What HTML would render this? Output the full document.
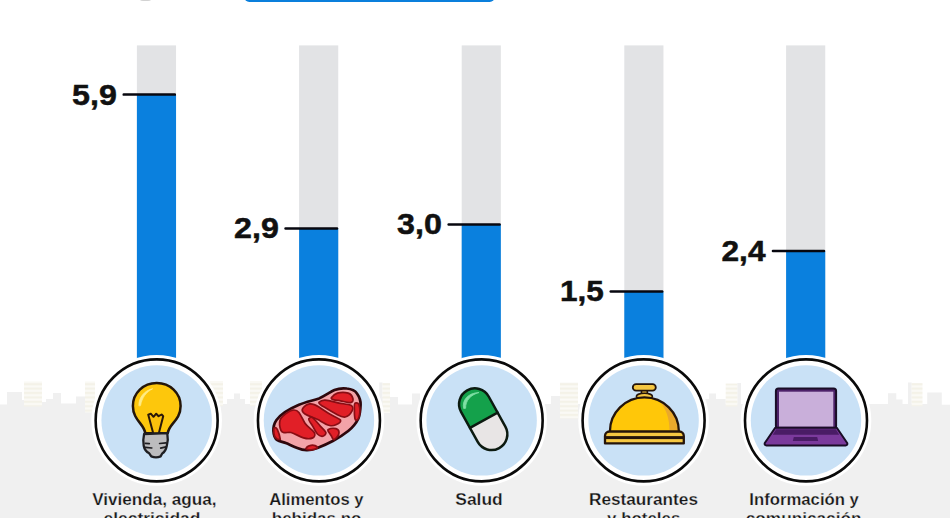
<!DOCTYPE html>
<html>
<head>
<meta charset="utf-8">
<style>
html,body{margin:0;padding:0;background:#fff;}
body{width:950px;height:518px;overflow:hidden;position:relative;font-family:"Liberation Sans",sans-serif;}
svg{position:absolute;left:0;top:0;display:block;}
text{font-family:"Liberation Sans",sans-serif;font-weight:bold;fill:#111;}
.val{font-size:29.8px;stroke:#111;stroke-width:0.5px;}
.lab{font-size:17.1px;text-anchor:middle;fill:#161616;stroke:#f0f0f0;stroke-width:0.25px;}
</style>
</head>
<body>
<svg width="950" height="518" viewBox="0 0 950 518">
  <!-- background -->
  <rect x="0" y="0" width="950" height="518" fill="#ffffff"/>
  <!-- skyline -->
  <defs>
    <pattern id="win" x="0" y="381.5" width="20" height="4.4" patternUnits="userSpaceOnUse">
      <rect x="0" y="0" width="20" height="4.4" fill="#fbfaf6"/>
      <rect x="0" y="1.6" width="20" height="2.2" fill="#f4f2e8"/>
    </pattern>
    <filter id="soft2" x="-5%" y="-5%" width="110%" height="110%"><feGaussianBlur stdDeviation="0.75"/></filter>
    <filter id="soft" x="-2%" y="-10%" width="104%" height="120%"><feGaussianBlur stdDeviation="0.7"/></filter>
  </defs>
  <g id="skyline" filter="url(#soft)">
    <path fill="#f0f0f0" d="M-5,525 V404.5 H7 V392 H22 V400 H42 V402 H46 V399 H53 V393 H61 V403.5 H76 V396.5 H86 V404 H219 H227 V399 H234 V393.6 H240 V399 H245 V404 H379.3 V382.5 H382.5 V397 H398 V404.5 H412 V393.5 H420 V404 H551 V396 H560 V404 H705 V399 H709 V393.5 H716 V399 H725.7 V404 H737.3 V383 H741 V404 H868 L881,404 H888 V393.2 H896.3 V399.4 H902.5 V404 H908 V382.4 H911.7 V404 H922.5 H927.2 V392.4 H941.8 V404.8 H955 V525 Z"/>
    <g fill="url(#win)">
      <rect x="24" y="381.5" width="18" height="25"/>
      <rect x="85" y="381.5" width="10" height="31"/>
      <rect x="210" y="381" width="13" height="25"/>
      <rect x="250" y="381" width="12" height="25"/>
      <rect x="382.5" y="383" width="7.5" height="30"/>
      <rect x="560" y="382.5" width="18" height="36"/>
      <rect x="725.7" y="383.5" width="11.6" height="23"/>
      <rect x="911.7" y="383" width="10.8" height="23.3"/>
    </g>
  </g>
  <!-- top fragments -->
  <rect x="244.3" y="-10" width="250.4" height="12" rx="5" fill="#0a7fdc"/>
  <ellipse cx="145.5" cy="-0.5" rx="6" ry="1.6" fill="#d2d2d2"/>
  <!-- bars -->
  <g id="bars">
    <rect x="136.9" y="45.4" width="39.15" height="320" fill="#e2e3e5"/>
    <rect x="299.1" y="45.4" width="39.15" height="320" fill="#e2e3e5"/>
    <rect x="461.7" y="45.4" width="39.15" height="320" fill="#e2e3e5"/>
    <rect x="624.3" y="45.4" width="39.15" height="320" fill="#e2e3e5"/>
    <rect x="786.1" y="45.4" width="39.15" height="320" fill="#e2e3e5"/>
    <rect x="136.9" y="94.8" width="39.15" height="271.2" fill="#0a80de"/>
    <rect x="299.1" y="228.5" width="39.15" height="137.5" fill="#0a80de"/>
    <rect x="461.7" y="224.6" width="39.15" height="141.4" fill="#0a80de"/>
    <rect x="624.3" y="291.7" width="39.15" height="74.3" fill="#0a80de"/>
    <rect x="786.1" y="251.0" width="39.15" height="115.0" fill="#0a80de"/>
  </g>
  <!-- value lines -->
  <g id="lines" fill="#07070f">
    <rect x="122.5" y="93.35" width="53.55" height="2.5" rx="1.2"/>
    <rect x="284.3" y="227.15" width="53.95" height="2.5" rx="1.2"/>
    <rect x="447.4" y="223.30" width="53.45" height="2.5" rx="1.2"/>
    <rect x="609.5" y="290.25" width="53.95" height="2.5" rx="1.2"/>
    <rect x="771.7" y="249.75" width="53.55" height="2.5" rx="1.2"/>
  </g>
  <!-- values -->
  <g id="values">
    <text class="val" textLength="44.8" lengthAdjust="spacingAndGlyphs" x="72" y="105">5,9</text>
    <text class="val" textLength="44.8" lengthAdjust="spacingAndGlyphs" x="234" y="237.8">2,9</text>
    <text class="val" textLength="44.8" lengthAdjust="spacingAndGlyphs" x="397" y="234.4">3,0</text>
    <text class="val" textLength="43.8" lengthAdjust="spacingAndGlyphs" x="560" y="301.2">1,5</text>
    <text class="val" textLength="44" lengthAdjust="spacingAndGlyphs" x="721.5" y="260.7">2,4</text>
  </g>
  <!-- circles -->
  <g id="circles">
    <g transform="translate(156.65,420.4)"><circle r="65.3" fill="#fff"/><circle r="61" fill="#fff" stroke="#0a0a0a" stroke-width="2.6"/><circle r="55.2" fill="#c9e1f6" filter="url(#soft2)"/></g>
    <g transform="translate(318.95,420.4)"><circle r="65.3" fill="#fff"/><circle r="61" fill="#fff" stroke="#0a0a0a" stroke-width="2.6"/><circle r="55.2" fill="#c9e1f6" filter="url(#soft2)"/></g>
    <g transform="translate(481.65,420.4)"><circle r="65.3" fill="#fff"/><circle r="61" fill="#fff" stroke="#0a0a0a" stroke-width="2.6"/><circle r="55.2" fill="#c9e1f6" filter="url(#soft2)"/></g>
    <g transform="translate(643.6,420.4)"><circle r="65.3" fill="#fff"/><circle r="61" fill="#fff" stroke="#0a0a0a" stroke-width="2.6"/><circle r="55.2" fill="#c9e1f6" filter="url(#soft2)"/></g>
    <g transform="translate(806.0,420.4)"><circle r="65.3" fill="#fff"/><circle r="61" fill="#fff" stroke="#0a0a0a" stroke-width="2.6"/><circle r="55.2" fill="#c9e1f6" filter="url(#soft2)"/></g>
  </g>
  <!-- icons -->
  <g id="icons" stroke-linejoin="round" stroke-linecap="round">
    <!-- bulb -->
    <g id="bulb">
      <path d="M145.2,433.2 C144.6,424 132.9,420.5 132.9,406 C132.9,393 143.4,383 156.7,383 C170,383 180.6,393 180.6,406 C180.6,420.5 168.6,424 167.8,433.2 Z" fill="#fdc70c" stroke="#24160a" stroke-width="2.5"/>
      <path d="M138.9,405.5 C138.6,397.5 144.5,390.4 152.6,388.8 C146.5,391.8 141.8,397.5 140.6,405.3 Z" fill="#ffec86" stroke="#ffec86" stroke-width="0.8"/>
      <path d="M153,432.6 L148.2,414.6 L150.8,413.7 L153.5,416.8 L156.2,413.7 L158.6,416.2 L161.6,414.5 L163.2,416.2 L159,432.6" fill="#fbc10c" stroke="#2a1808" stroke-width="2"/>
      <path d="M144.1,434 L167.3,433.2 C168,437 167.8,442 166.8,445.8 C166,450 164,452.5 162.2,453.5 L160.6,456.4 C158,457.6 154,457.6 151.3,456.4 L149.2,453.3 C146.5,452 144.4,449.5 143.7,445.8 C143,442 143.3,437.5 144.1,434 Z" fill="#bcbcbe" stroke="#1e1e22" stroke-width="2.3"/>
      <path d="M145.4,443.4 L149.3,443.7 M145.4,447.3 L151.8,448 M159.6,443.5 L166,442.9 M160.7,448.1 L166,446.8" fill="none" stroke="#1e1e22" stroke-width="1.7"/>
    </g>
    <!-- steak -->
    <g id="steak">
      <path d="M273.4,431 C273.2,427 274.5,422.8 276.5,420 C281,413.5 290,408.5 299,404.7 C306,401.8 313,400.5 319,398.4 C325,396 330,392 334.5,390 C338.5,388.4 343,388 346.8,388.5 C351.5,389 355,390.5 356.8,393.2 C359.5,397 360.8,401 360.6,404.8 C360.4,410 360,415 358.3,418.7 C356,423.5 352.5,427.5 348.2,431 C343.5,434.8 338,438.2 332.8,441 C328,443.6 322.5,446 317.4,447.9 C313.6,449.3 310,450.4 306.6,450.2 C303.2,450 300,449 297.3,447.9 C293.5,446.4 290,444.8 286.5,443.3 C283,441.9 279.5,441.6 277.3,440.2 C275,438.7 273.6,435 273.4,431 Z" fill="#f3a3a8" stroke="#2d070c" stroke-width="2.7"/>
      <g fill="#e11f27" stroke="#8a0d14" stroke-width="1.7">
        <path d="M279.6,424.8 C279.3,421 280.5,418.2 282.7,416.3 C285.5,413.8 289.5,410.6 292.7,410.1 C295,409.8 297.5,410.6 298.9,412.4 C301.3,415.6 302.8,419.8 305,423.2 C307.3,426.8 312.5,429.6 314.3,432.5 C315.5,434.5 314.8,437 312.8,437.9 C310.2,439.1 306.5,438.8 303.5,437.9 C299,436.5 295,433.5 291.1,432.5 C288.5,431.8 285.5,433.2 283.4,432.5 C281,431.7 279.9,428 279.6,424.8 Z"/>
        <path d="M302.7,408.5 C304.5,406 307,404.2 309.7,403.9 C313,403.5 316,405.2 318.9,407 C322.7,409.3 326,411.8 329.7,414 C333.3,416.2 338.5,418 340.5,420.1 C341.3,422 338.2,423.8 335.9,424.8 C334,425.7 331.7,426 329.7,425.5 C325.8,424.5 322.3,422.1 318.9,420.1 C314.2,417.4 308.5,416.5 305,414 C303,412.6 301.6,410.2 302.7,408.5 Z"/>
        <path d="M318.9,402.4 C320.5,400.8 322.8,400 325.1,400.1 C329.8,400.3 334.5,402.2 339,403.1 C343,403.9 348.5,404 351.3,405.5 C353,406.5 353,409.2 352.1,410.9 C350.8,413.4 347.8,416.5 345.2,417 C342.7,417.5 339.8,416 337.4,414.7 C333.7,412.7 330,410.6 326.6,408.5 C323.8,406.8 318.5,404.5 318.9,402.4 Z"/>
        <path d="M331.3,397.7 C332.8,395.8 335,393.8 337.4,393.1 C340.8,392.1 345,392.1 348.2,393.1 C350.5,393.8 352.3,396.3 352.9,398.5 C353.3,400 352.8,402 351.3,402.4 C348,403.3 344,401.5 340.5,400.8 C337.3,400.2 330.6,400 331.3,397.7 Z"/>
        <path d="M355.2,403.1 C356.5,402.6 358.3,403.3 359,404.7 C360.2,408.5 360,413.5 359,417 C358.6,418.4 357.2,420.3 356,420.1 C354.8,419.9 354.8,417.5 354.6,416 C354.3,413.5 354.4,412 354.4,410.9 C354.4,408.3 353.9,403.7 355.2,403.1 Z"/>
        <path d="M308.9,418.6 C309.9,417.5 311.8,417 312.8,417.8 C315.8,420.2 318,423.6 320.5,426.3 C322.4,428.4 325.3,430.3 325.9,432.5 C326.3,434.2 323.8,436.4 322,436.3 C320.2,436.2 318.6,435.3 317.4,434 C315.5,431.8 314.2,428.8 312.8,426.3 C311.4,423.8 307.8,420 308.9,418.6 Z"/>
        <path d="M328.2,429.4 C330.5,428.3 333.6,428 335.9,428.6 C337.5,429 339,430.8 339,432.5 C339,435 336.6,437.8 334.4,439.4 C333.4,440 332.5,438.3 332,437.1 C331,434.5 326.5,430.3 328.2,429.4 Z"/>
        <path d="M305.8,448.7 C306.5,447.2 308.2,446 309.7,445.6 C311.4,445.1 313.5,445.1 315.1,445.6 C316.2,446 317.6,447.2 317.4,447.9 C315.5,448.9 313.3,449.7 311.2,449.8 C309.4,449.9 306.5,449.6 305.8,448.7 Z"/>
        <path d="M274.2,427.8 C275.2,427.5 276.8,428.5 277.3,429.4 C278.8,432.5 279.8,436.2 280.3,439.4 C279,439.6 277.4,439.3 276.5,438.6 C274.8,437.2 274,435 273.9,433.2 C273.8,431.4 273.6,428.3 274.2,427.8 Z"/>
      </g>
    </g>
    <!-- pill -->
    <g id="pill">
      <g transform="translate(483.2,419.2) rotate(-29)">
        <rect x="-15.8" y="-33" width="31.6" height="66" rx="15.8" fill="#e8e5e5"/>
        <path d="M-15.8,1.2 V-17.2 A15.8,15.8 0 0 1 15.8,-17.2 V1.2 Z" fill="#14a14b"/>
        <rect x="-15.8" y="-33" width="31.6" height="66" rx="15.8" fill="none" stroke="#0c1a10" stroke-width="2.5"/>
        <path d="M-15.8,1.2 H15.8" stroke="#0c1a10" stroke-width="2.4"/>
      </g>
      <path d="M463.6,408.2 C461.8,400.5 467.5,393 479,392.5 C470.5,395 465.5,400.5 465.6,408 Z" fill="#7fdfa5" stroke="#7fdfa5" stroke-width="0.8"/>
    </g>
    <!-- bell -->
    <g id="bell">
      <rect x="641.5" y="389.5" width="5.8" height="6" fill="#f3c23c" stroke="#24140a" stroke-width="1.6"/>
      <rect x="632.8" y="384.1" width="23" height="6.6" rx="3.3" fill="#f5c742" stroke="#24140a" stroke-width="1.8"/>
      <ellipse cx="644.4" cy="396.3" rx="8" ry="3" fill="#f5c742" stroke="#24140a" stroke-width="1.6"/>
      <path d="M609.9,431.5 A34.5,34.1 0 0 1 678.9,431.5 Z" fill="#ffc709"/>
      <path d="M659,400.8 C671,407 678,418 678.3,430.5 L669.5,430.5 C669.5,419 666.5,409 659,400.8 Z" fill="#eaa92c"/>
      <path d="M609.9,431.5 A34.5,34.1 0 0 1 678.9,431.5" fill="none" stroke="#24140a" stroke-width="2.3"/>
      <path d="M605,443.4 V436 C605,433.5 607,431.5 609.5,431.5 H679.3 C681.8,431.5 683.8,433.5 683.8,436 V443.4 Z" fill="#f5c742" stroke="#24140a" stroke-width="2.3"/>
      <rect x="605" y="436.1" width="78.8" height="3" fill="#24140a"/>
    </g>
    <!-- laptop -->
    <g id="laptop">
      <rect x="775.9" y="388.4" width="60.2" height="40" rx="2.5" fill="#4d2169" stroke="#1a0d26" stroke-width="2"/>
      <rect x="779" y="391.7" width="54.3" height="35" fill="#c9afda"/>
      <path d="M775.2,427.8 H836.8 L847.2,443 C847.8,444.3 847,445.4 845.6,445.4 H766.4 C765,445.4 764.2,444.3 764.8,443 Z" fill="#7b3a9c" stroke="#1a0d26" stroke-width="2"/>
      <path d="M776.2,429.2 H835.8 L839.2,434.8 H772.8 Z" fill="#4a1c66"/>
      <path d="M793.8,436.9 H817.2 L818.2,441 H792.8 Z" fill="#4a1c66"/>
    </g>
  </g>
  <!-- labels -->
  <g id="labels">
    <text class="lab" id="l1a" textLength="124.4" lengthAdjust="spacingAndGlyphs" x="154.4" y="504.9">Vivienda, agua,</text>
    <text class="lab" id="l1b" textLength="101.8" lengthAdjust="spacingAndGlyphs" x="154.4" y="524">electricidad,</text>
    <text class="lab" id="l2a" textLength="94.4" lengthAdjust="spacingAndGlyphs" x="316.4" y="504.9">Alimentos y</text>
    <text class="lab" id="l2b" textLength="89.7" lengthAdjust="spacingAndGlyphs" x="316.6" y="524">bebidas no</text>
    <text class="lab" id="l3a" textLength="47.3" lengthAdjust="spacingAndGlyphs" x="479" y="504.9">Salud</text>
    <text class="lab" id="l4a" textLength="108.9" lengthAdjust="spacingAndGlyphs" x="643.5" y="504.9">Restaurantes</text>
    <text class="lab" id="l4b" textLength="73.2" lengthAdjust="spacingAndGlyphs" x="643.7" y="524">y hoteles</text>
    <text class="lab" id="l5a" textLength="109.6" lengthAdjust="spacingAndGlyphs" x="804.1" y="504.9">Información y</text>
    <text class="lab" id="l5b" textLength="115.7" lengthAdjust="spacingAndGlyphs" x="803.6" y="524">comunicación</text>
  </g>
</svg>
</body>
</html>
